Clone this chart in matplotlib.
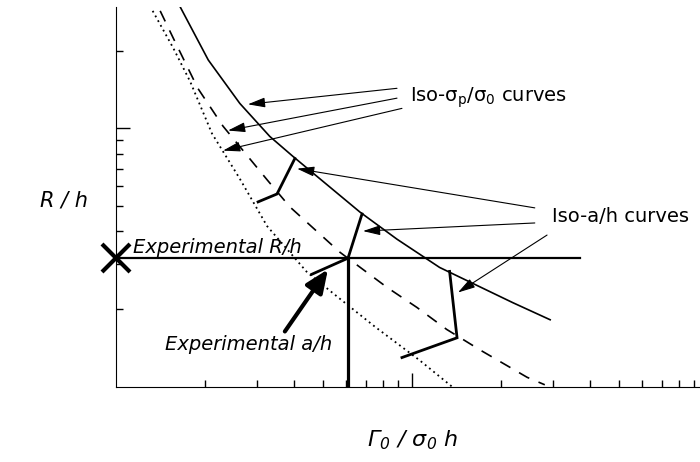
import matplotlib
matplotlib.use('Agg')
import matplotlib.pyplot as plt
from matplotlib.ticker import FixedLocator, NullFormatter

# Iso-sigma_p/sigma_0 curves (log-log schematic)
solid_x = [1.633, 2.05, 2.62, 3.31, 3.96, 6.67, 8.90, 12.4, 21.9, 29.3]
solid_y = [30.1, 18.4, 12.5, 9.31, 7.8, 4.75, 3.73, 2.90, 2.12, 1.82]

dashed_x = [1.41, 1.56, 1.89, 2.30, 3.24, 3.87, 5.71, 8.23, 10.4, 13.1, 17.0, 24.5, 28.1]
dashed_y = [28.5, 22.4, 14.3, 10.2, 6.33, 4.97, 3.32, 2.43, 2.03, 1.67, 1.39, 1.09, 1.02]

dotted_x = [1.33, 1.56, 1.78, 2.11, 2.62, 3.24, 4.42, 5.58, 7.50, 10.6, 13.7]
dotted_y = [28.5, 20.5, 15.2, 9.56, 6.39, 4.19, 2.78, 2.24, 1.71, 1.27, 1.0]

# Iso-a/h segments
iso_a_x = [[4.02, 3.50, 3.02], [6.78, 6.08, 4.59], [13.4, 14.2, 9.25]]
iso_a_y = [[7.65, 5.58, 5.20], [4.67, 3.15, 2.73], [2.80, 1.55, 1.30]]

# experimental point
exp_x = 6.08
exp_y = 3.15
hline_end = 36.9

# annotation arrows: (tail, tip)
sig_tails = [(8.90, 14.3), (8.90, 13.1), (9.25, 11.96)]
sig_tips = [(2.79, 12.4), (2.39, 9.82), (2.30, 8.21)]
a_tails = [(26.0, 4.93), (26.0, 4.31), (28.6, 3.87)]
a_tips = [(4.09, 6.99), (6.83, 4.01), (14.3, 2.32)]
exp_a_tail = (3.72, 1.64)
exp_a_tip = (5.20, 2.85)

x_minor = [2, 3, 4, 5, 6, 7, 8, 9, 20, 30, 40, 50, 60, 70, 80, 90]
y_minor = [2, 3, 4, 5, 6, 7, 8, 9, 20]

fig = plt.figure(figsize=(7, 4.62), dpi=100)
ax = fig.add_axes([116/700, 75/462, 584/700, 380/462])
ax.set_xscale('log')
ax.set_yscale('log')
ax.set_xlim(1, 94)
ax.set_ylim(1, 29.5)

ax.plot(solid_x, solid_y, color='black', lw=1.2)
ax.plot(dashed_x, dashed_y, color='black', lw=1.2, dashes=(7, 6))
ax.plot(dotted_x, dotted_y, color='black', lw=1.3, dashes=(1, 2))

for xs, ys in zip(iso_a_x, iso_a_y):
    ax.plot(xs, ys, color='black', lw=2, solid_joinstyle='miter')

ax.plot([1, hline_end], [exp_y, exp_y], color='black', lw=1.6)
ax.plot([exp_x, exp_x], [1, exp_y], color='black', lw=2.3)
ax.plot([1], [exp_y], marker='x', color='black', ms=20, mew=3, clip_on=False)

thin = dict(arrowstyle='-|>,head_length=0.7,head_width=0.2', lw=0.8,
            color='black', mutation_scale=15, shrinkA=0, shrinkB=0)
for tail, tip in zip(sig_tails, sig_tips):
    ax.annotate('', xy=tip, xytext=tail, arrowprops=thin)
for tail, tip in zip(a_tails, a_tips):
    ax.annotate('', xy=tip, xytext=tail, arrowprops=thin)
ax.annotate('', xy=exp_a_tip, xytext=exp_a_tail,
            arrowprops=dict(arrowstyle='-|>,head_length=0.7,head_width=0.3', lw=3,
                            color='black', mutation_scale=20, shrinkA=0, shrinkB=0))

ax.text(9.85, 12.7, r'Iso-$\mathrm{\sigma_p}$/$\mathrm{\sigma_0}$ curves', fontsize=14,
        ha='left', va='baseline')
ax.text(29.7, 4.55, 'Iso-a/h curves', fontsize=14, ha='left', va='center')
ax.text(1.14, 3.47, 'Experimental R/h', fontsize=14, style='italic', ha='left', va='center')
ax.text(1.46, 1.46, 'Experimental a/h', fontsize=14, style='italic', ha='left', va='center')

fig.text(40/700, 1 - 200/462, 'R / h', fontsize=15, style='italic', ha='left', va='center')
fig.text(413/700, 1 - 440/462, r'Γ$_\mathdefault{0}$ / σ$_\mathdefault{0}$ h', fontsize=16,
         style='italic', ha='center', va='center')

ax.spines['top'].set_visible(False)
ax.spines['right'].set_visible(False)
ax.xaxis.set_major_locator(FixedLocator([10]))
ax.yaxis.set_major_locator(FixedLocator([10]))
ax.xaxis.set_minor_locator(FixedLocator(x_minor))
ax.yaxis.set_minor_locator(FixedLocator(y_minor))
ax.xaxis.set_major_formatter(NullFormatter())
ax.yaxis.set_major_formatter(NullFormatter())
ax.xaxis.set_minor_formatter(NullFormatter())
ax.yaxis.set_minor_formatter(NullFormatter())
ax.tick_params(which='major', direction='in', length=10, width=1)
ax.tick_params(which='minor', direction='in', length=5, width=1)

fig.savefig('out.png', dpi=100)
